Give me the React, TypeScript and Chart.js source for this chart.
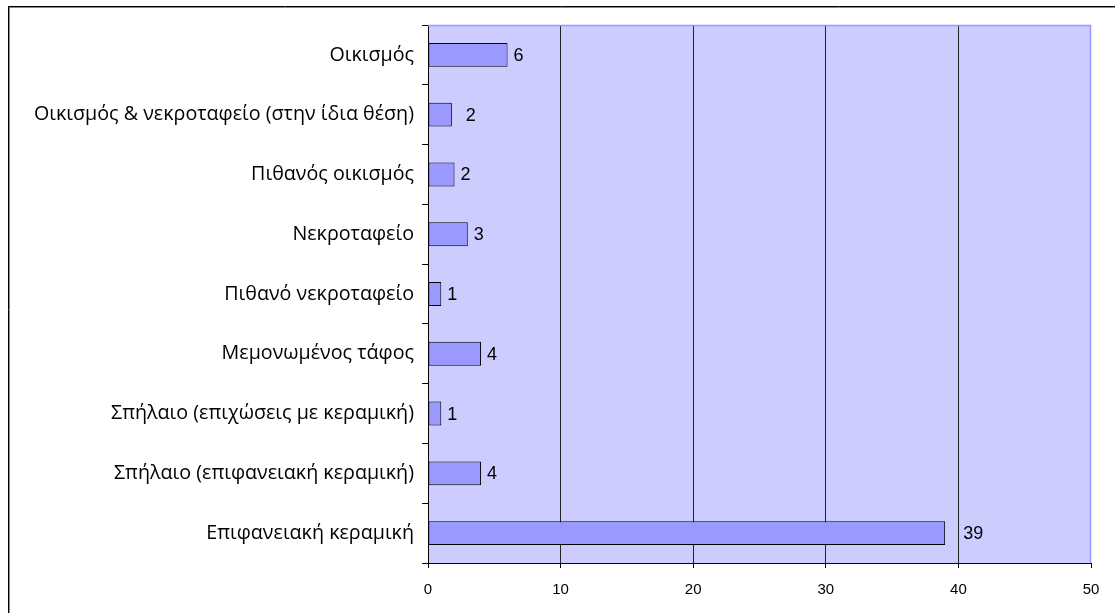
import React, { useEffect, useRef } from "react";
import { Chart, registerables } from "chart.js";

Chart.register(...registerables);

const categories = [
  "Οικισμός",
  "Οικισμός & νεκροταφείο (στην ίδια θέση)",
  "Πιθανός οικισμός",
  "Νεκροταφείο",
  "Πιθανό νεκροταφείο",
  "Μεμονωμένος τάφος",
  "Σπήλαιο (επιχώσεις με κεραμική)",
  "Σπήλαιο (επιφανειακή κεραμική)",
  "Επιφανειακή κεραμική",
];

const counts = [6, 1.8, 2, 3, 1, 4, 1, 4, 39];

const xTicks = [0, 10, 20, 30, 40, 50];

const FONT = "'Liberation Sans', Arial, sans-serif";
const CAT_FONT = "'Open Sans', 'Noto Sans', sans-serif";

export default function App() {
  const ref = useRef<HTMLCanvasElement | null>(null);

  useEffect(() => {
    if (!ref.current) return;
    const labelShift: Record<number, number> = { 1: 8, 8: 12 };

    const framePlugin = {
      id: "frame",
      beforeDraw(chart: any) {
        const { ctx, chartArea: a } = chart;
        ctx.save();
        ctx.fillStyle = "#ffffff";
        ctx.fillRect(0, 0, chart.width, chart.height);
        ctx.fillStyle = "#ccccff";
        ctx.fillRect(a.left, a.top, a.right - a.left, a.bottom - a.top);
        ctx.strokeStyle = "#000";
        ctx.lineWidth = 1;
        ctx.beginPath();
        ctx.moveTo(8, 6.5);
        ctx.lineTo(chart.width, 6.5);
        ctx.moveTo(8.5, 6);
        ctx.lineTo(8.5, chart.height);
        ctx.stroke();
        ctx.strokeStyle = "#888";
        ctx.beginPath();
        ctx.moveTo(9, 7.5);
        ctx.lineTo(chart.width, 7.5);
        ctx.moveTo(9.5, 7);
        ctx.lineTo(9.5, chart.height);
        ctx.stroke();
        ctx.restore();
      },
      afterDatasetsDraw(chart: any) {
        const { ctx, chartArea: a } = chart;
        ctx.save();
        ctx.strokeStyle = "#9999ff";
        ctx.lineWidth = 1.5;
        ctx.beginPath();
        ctx.moveTo(a.left, a.top + 0.5);
        ctx.lineTo(a.right - 0.5, a.top + 0.5);
        ctx.lineTo(a.right - 0.5, a.bottom);
        ctx.stroke();
        const meta = chart.getDatasetMeta(0);
        ctx.fillStyle = "#000";
        ctx.font = `18px ${FONT}`;
        ctx.textAlign = "left";
        ctx.textBaseline = "middle";
        meta.data.forEach((el: any, i: number) => {
          const v = counts[i];
          ctx.fillText(String(Math.round(v)), el.x + 6 + (labelShift[i] || 0), el.y + 1);
        });
        ctx.restore();
      },
    };

    const chart = new Chart(ref.current, {
      type: "bar",
      data: {
        labels: categories,
        datasets: [
          {
            data: counts,
            backgroundColor: "#9999ff",
            borderColor: "#000000",
            borderWidth: 1,
            borderSkipped: false,
            barPercentage: 0.4,
            categoryPercentage: 1,
          },
        ],
      },
      options: {
        indexAxis: "y",
        responsive: false,
        animation: false,
        devicePixelRatio: 1,
        layout: { padding: { left: 0, top: 25, right: 24, bottom: 0 } },
        plugins: {
          legend: { display: false },
          tooltip: { enabled: false },
        },
        scales: {
          x: {
            type: "linear",
            min: 0,
            max: 50,
            afterBuildTicks(scale: any) {
              scale.ticks = xTicks.map((v) => ({ value: v }));
            },
            afterFit(scale: any) {
              scale.height = 50;
            },
            ticks: {
              color: "#000",
              font: { family: FONT, size: 15 },
              padding: 13,
            },
            grid: {
              color: (c: any) =>
                c.tick && (c.tick.value === 0 || c.tick.value === 50) ? "rgba(0,0,0,0)" : "#222",
              tickColor: "#000",
              tickLength: 5,
              lineWidth: 1,
            },
            border: { display: true, color: "#000", width: 1 },
          },
          y: {
            type: "category",
            afterFit(scale: any) {
              scale.width = 428;
            },
            ticks: {
              color: "#000",
              font: { family: CAT_FONT, size: 19.7 },
              padding: 8,
              autoSkip: false,
            },
            grid: {
              offset: true,
              drawOnChartArea: false,
              tickColor: "#000",
              tickLength: 6,
            },
            border: { display: true, color: "#000", width: 1 },
          },
        },
      },
      plugins: [framePlugin],
    });
    return () => chart.destroy();
  }, []);

  return (
    <div style={{ position: "absolute", left: 0, top: 0, width: 1115, height: 613 }}>
      <canvas ref={ref} width={1115} height={613} style={{ display: "block" }} />
    </div>
  );
}
